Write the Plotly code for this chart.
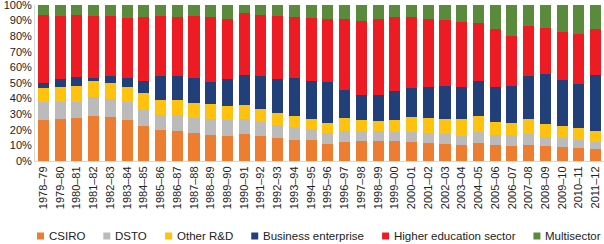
import plotly.graph_objects as go

years = ["1978–79","1979–80","1980–81","1981–82","1982–83","1983–84","1984–85","1985–86",
         "1986–87","1987–88","1988–89","1989–90","1990–91","1991–92","1992–93","1993–94",
         "1994–95","1995–96","1996–97","1997–98","1998–99","1999–00","2000–01","2001–02",
         "2002–03","2003–04","2004–05","2005–06","2006–07","2007–08","2008–09","2009–10",
         "2010–11","2011–12"]

csiro = [26.6,27.0,27.6,28.7,28.3,26.6,22.5,19.9,19.3,17.8,16.5,16.3,17.1,16.3,15.0,13.7,
         13.3,11.1,12.2,12.8,12.8,12.8,12.2,11.3,10.9,10.5,11.8,10.1,9.6,10.5,9.4,8.8,8.6,7.5]
dsto = [11.3,10.9,10.5,12.2,11.5,11.3,10.7,9.4,10.0,10.0,10.7,10.3,9.9,9.0,7.9,7.9,
        7.0,7.1,7.1,6.3,6.3,6.0,6.4,6.7,6.4,5.8,6.6,6.4,6.9,6.8,6.0,5.8,5.1,4.9]
other_rd = [8.6,9.6,9.7,10.1,9.9,9.6,10.1,9.7,9.7,9.2,9.2,8.7,9.2,8.3,7.9,7.1,
            6.5,6.4,8.1,7.0,6.8,7.3,9.7,9.6,9.9,10.9,10.3,8.6,8.1,9.5,8.2,7.7,7.7,6.7]
business = [3.4,5.0,5.9,2.5,4.7,5.8,7.9,15.4,15.8,16.5,14.3,17.2,19.0,20.6,21.9,24.4,
            24.4,25.9,18.2,15.9,16.1,18.9,18.6,19.9,20.8,20.1,22.5,22.2,23.2,27.4,32.1,29.5,28.1,35.9]
higher_ed = [43.7,40.4,39.9,39.6,38.5,38.6,40.9,38.5,37.3,39.4,41.4,38.5,39.4,39.4,40.4,39.2,
             40.4,40.7,45.2,47.7,48.8,47.3,45.2,43.5,42.6,41.6,37.5,37.3,32.5,32.5,29.5,30.9,32.1,29.6]
multisector = [6.4,7.1,6.4,6.9,7.1,8.1,7.9,7.1,7.9,7.1,7.9,9.0,5.4,6.4,6.9,7.7,
               8.4,8.8,9.2,10.3,9.2,7.7,7.9,9.0,9.4,11.1,11.3,15.4,19.7,13.3,14.8,17.3,18.4,15.4]

series_names = ["CSIRO", "DSTO", "Other R&D", "Business enterprise", "Higher education sector", "Multisector"]
series_values = [csiro, dsto, other_rd, business, higher_ed, multisector]
colors = ["#ED7D31", "#BBBBBB", "#FFC20E", "#21407A", "#ED1C24", "#5A8A3C"]

W, H = 604, 244
ML, MR, MT, MB = 35, 0, 5, 83

fig = go.Figure()
for name, vals, col in zip(series_names, series_values, colors):
    fig.add_trace(go.Bar(x=years, y=vals, name=name, marker=dict(color=col, line=dict(width=0)),
                         showlegend=False))

plot_w = W - ML - MR
plot_h = H - MT - MB
def px_x(p):
    return (p - ML) / plot_w
def px_y(p):
    return (H - MB - p) / plot_h

# approximate Arial text widths (em) to lay out a one-row legend
char_w = {'C':.722,'S':.667,'I':.278,'R':.722,'O':.778,'D':.722,'T':.611,'B':.667,'H':.722,'M':.833,
          ' ':.278,'&':.667,'i':.222,'l':.222,'t':.278,'r':.333,'f':.278,'s':.5,'c':.5}
def text_w(s, size):
    return sum(char_w.get(ch, .556) for ch in s) * size

LEG_FONT = 11.5
start, end = 37, 599
sq, sq_gap = 7, 3
widths = [sq + sq_gap + text_w(n, LEG_FONT) for n in series_names]
gap = (end - start - sum(widths)) / (len(series_names) - 1)
ly = 236
lx = start
for name, col, w in zip(series_names, colors, widths):
    fig.add_shape(type="rect", xref="paper", yref="paper",
                  x0=px_x(lx), x1=px_x(lx + sq), y0=px_y(ly + 3.5), y1=px_y(ly - 3.5),
                  fillcolor=col, line=dict(width=0))
    fig.add_annotation(xref="paper", yref="paper", x=px_x(lx + sq + sq_gap), y=px_y(ly),
                       text=name, showarrow=False, xanchor="left", yanchor="middle",
                       font=dict(size=LEG_FONT, color="#222222", family="Liberation Sans, Arial, sans-serif"))
    lx += w + gap

fig.update_layout(
    width=W, height=H,
    margin=dict(l=ML, r=MR, t=MT, b=MB, pad=0, autoexpand=False),
    barmode="stack", bargap=0.34,
    plot_bgcolor="white", paper_bgcolor="white",
    font=dict(family="Liberation Sans, Arial, sans-serif", color="#222222"),
)
fig.update_yaxes(range=[0, 100], dtick=10, ticksuffix="%", showgrid=False, automargin=False,
                 showline=True, linecolor="#D9D9D9", linewidth=1, ticks="",
                 tickfont=dict(size=11), zeroline=False, ticklabeloverflow="allow")
fig.update_xaxes(tickangle=-90, showgrid=False, showline=True, linecolor="#D9D9D9", automargin=False,
                 linewidth=1, ticks="", tickfont=dict(size=11), ticklabeloverflow="allow")

fig.write_html("out.html", config={"displayModeBar": False},
               post_script="document.body.style.margin='0';document.body.style.overflow='hidden';")
